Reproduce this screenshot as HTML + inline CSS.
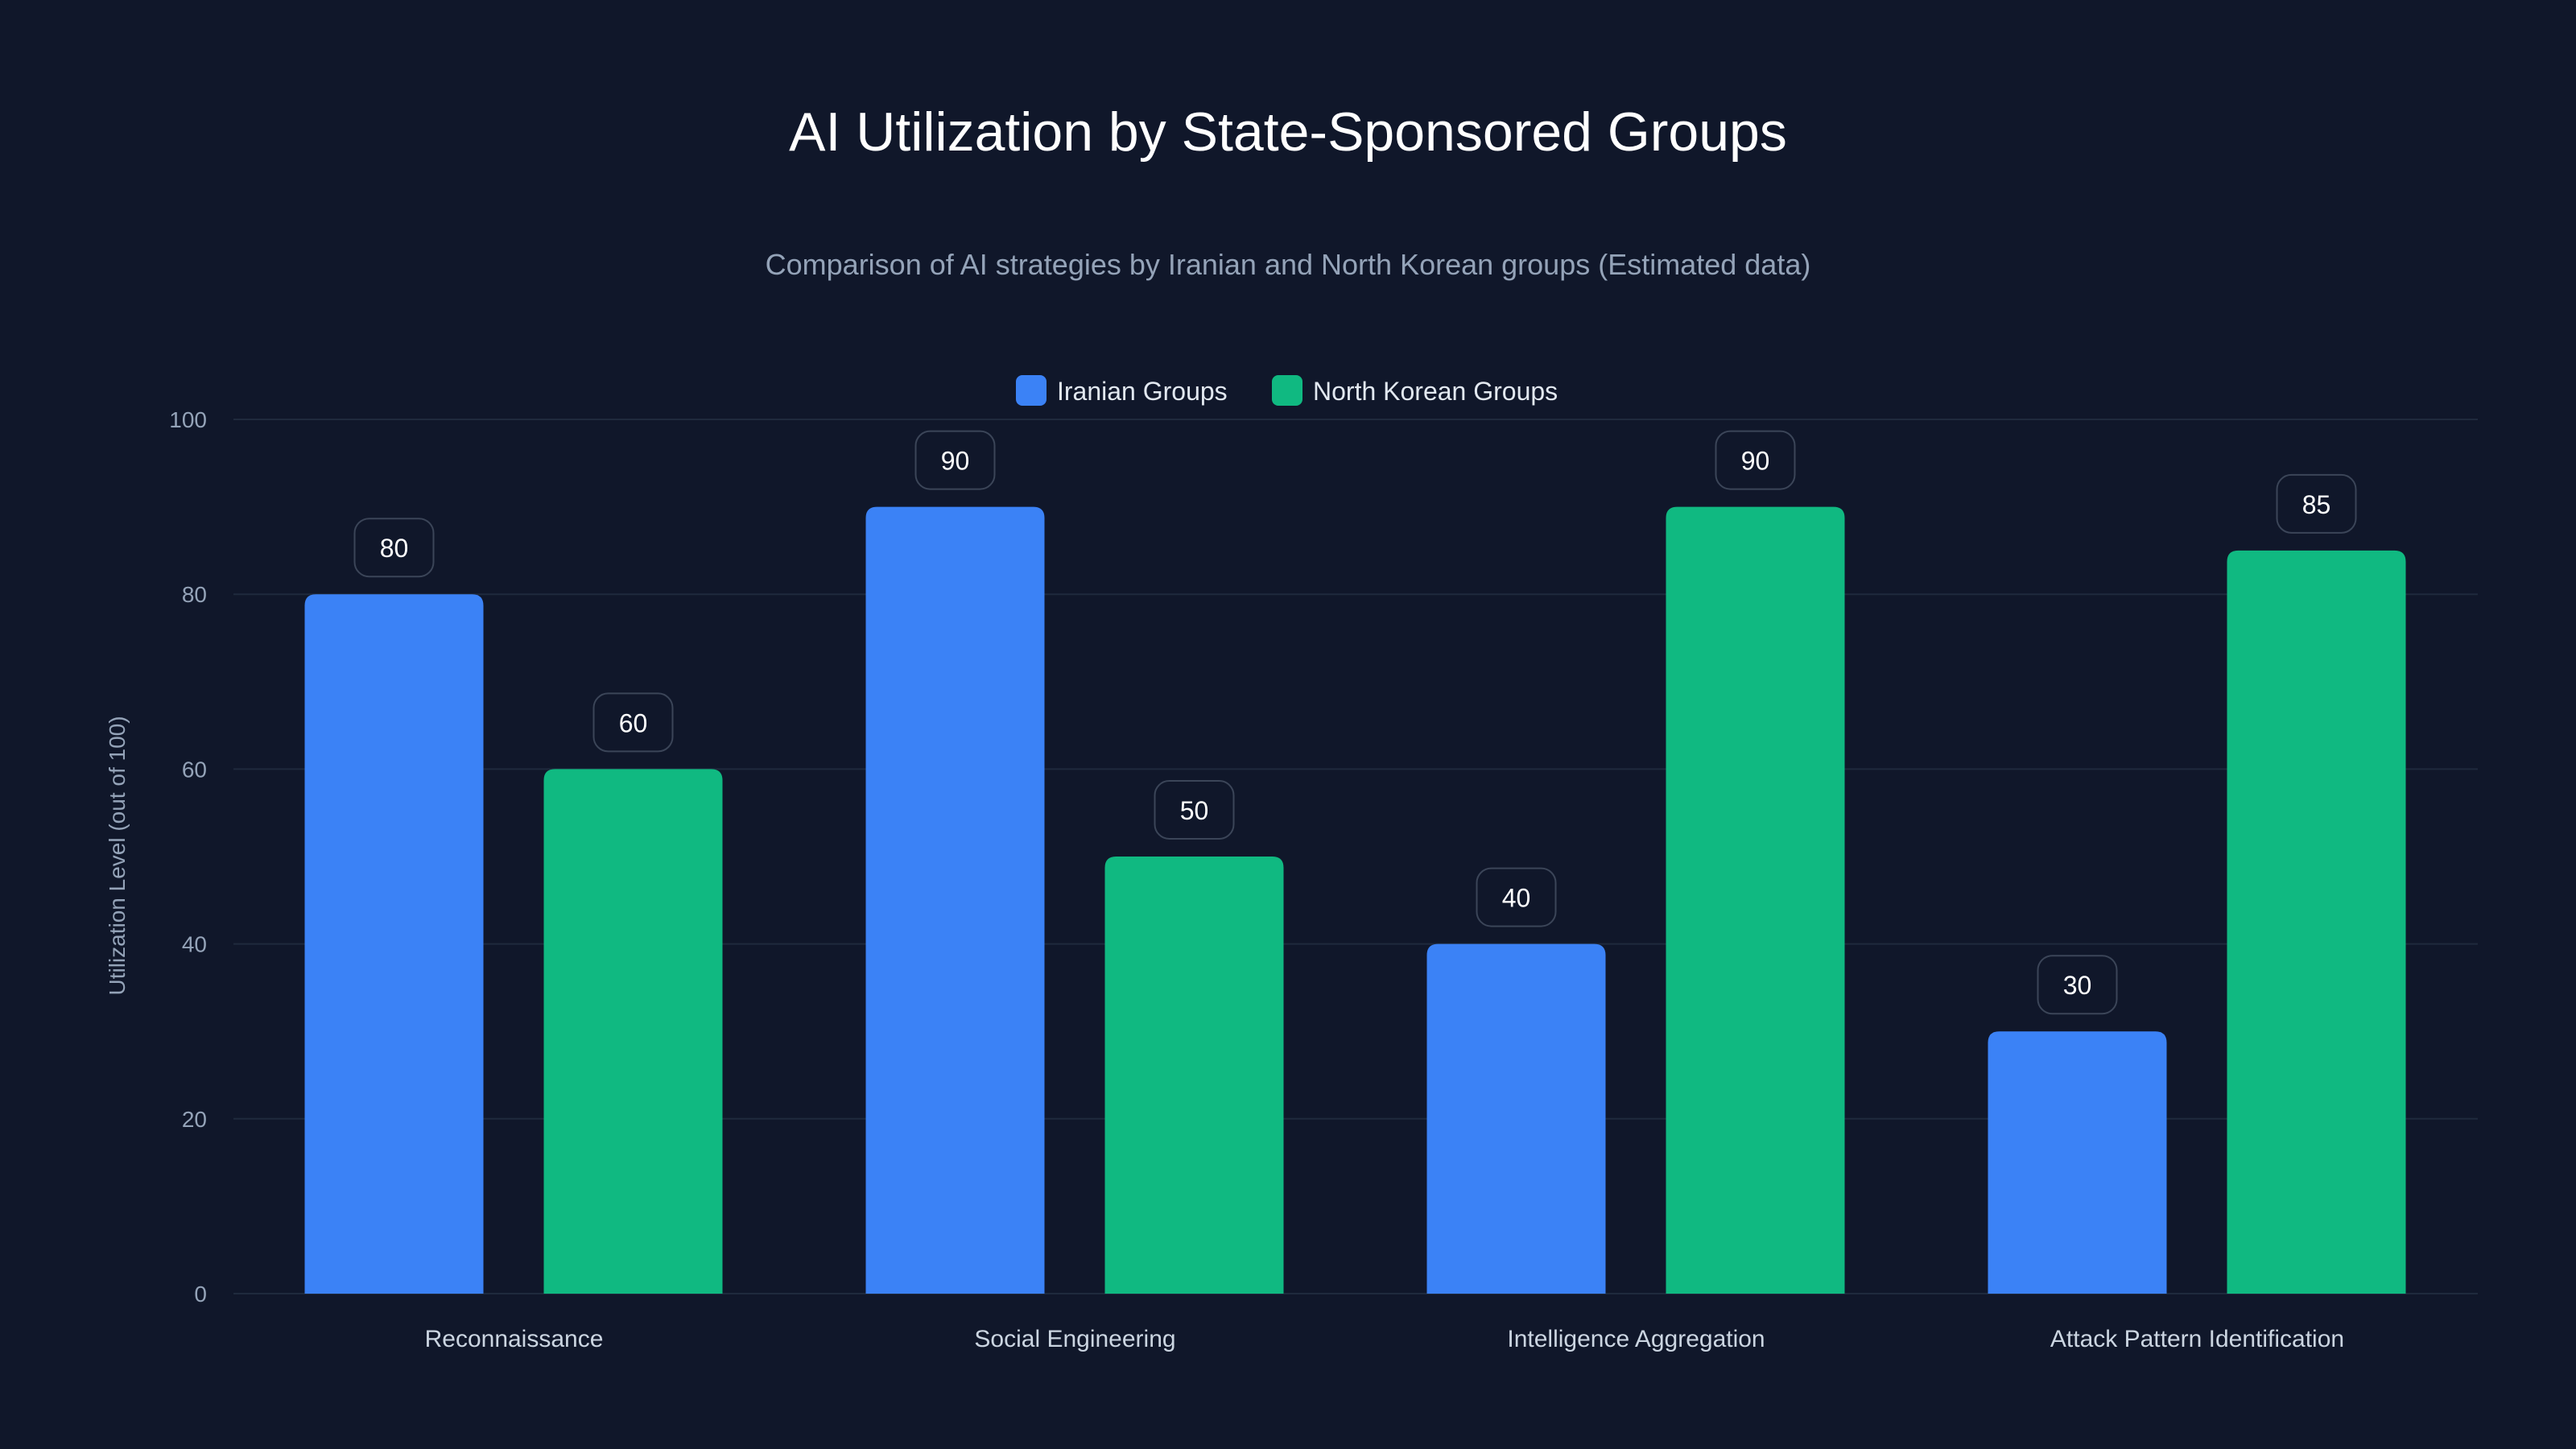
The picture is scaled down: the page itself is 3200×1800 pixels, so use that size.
<!DOCTYPE html>
<html><head><meta charset="utf-8"><style>
html,body{margin:0;padding:0;background:#10172a;}
svg{display:block;font-family:"Liberation Sans",sans-serif;}
</style></head><body>
<svg id="chart" width="3200" height="1800" viewBox="0 0 3200 1800">
<rect width="3200" height="1800" fill="#10172a"/>
<text x="1600" y="187" text-anchor="middle" fill="#ffffff" font-size="68">AI Utilization by State-Sponsored Groups</text>
<text x="1600" y="341" text-anchor="middle" fill="#94a3b8" font-size="36">Comparison of AI strategies by Iranian and North Korean groups (Estimated data)</text>
<g>
<g><rect x="1262" y="466" width="38" height="38" rx="8" fill="#3b82f6"/><text x="1313" y="497" fill="#e2e8f0" font-size="32">Iranian Groups</text></g>
<g><rect x="1580" y="466" width="38" height="38" rx="8" fill="#10b981"/><text x="1631" y="497" fill="#e2e8f0" font-size="32">North Korean Groups</text></g>
</g>
<text transform="translate(155,1063) rotate(-90)" text-anchor="middle" fill="#94a3b8" font-size="28">Utilization Level (out of 100)</text>
<g id="grid"></g><g id="bars"></g>
</svg>
<script>
const categories = ["Reconnaissance","Social Engineering","Intelligence Aggregation","Attack Pattern Identification"];
const iranian = [80, 90, 40, 30];
const northKorean = [60, 50, 90, 85];
const yTicks = [0, 20, 40, 60, 80, 100];

const NS = "http://www.w3.org/2000/svg";
const x0 = 290, x1 = 3078, yBase = 1607, yTop = 521;
const yScale = v => yBase - (v / 100) * (yBase - yTop);
const groupW = (x1 - x0) / categories.length;
const xCenter = i => x0 + groupW * (i + 0.5);
const barW = 222;
function mk(tag, attrs, parent){const e=document.createElementNS(NS,tag);for(const k in attrs)e.setAttribute(k,attrs[k]);parent.appendChild(e);return e;}
const grid = document.getElementById('grid'), bars = document.getElementById('bars');
yTicks.forEach(t=>{
  const y = yScale(t);
  const l = mk('line',{x1:x0,x2:x1,y1:y,y2:y,stroke:'#1f2a3d','stroke-width':2},grid);
  
  
  const tx = mk('text',{x:257,y:y+10,'text-anchor':'end',fill:'#94a3b8','font-size':28},grid);
  tx.textContent = t;
  
  
});
function bar(cx, v, color, name){
  const top = yScale(v), r = 14, x = cx - barW/2;
  const p = mk('path',{d:`M${x},${yBase} V${top+r} Q${x},${top} ${x+r},${top} H${x+barW-r} Q${x+barW},${top} ${x+barW},${top+r} V${yBase} Z`,fill:color},bars);
  
  
  const bx = cx-49, by = top-94;
  const b = mk('rect',{x:bx,y:by,width:98,height:72,rx:18,fill:'#10172a',stroke:'#3b4558','stroke-width':2},bars);
  
  
  const t = mk('text',{x:cx,y:by+48,'text-anchor':'middle',fill:'#ffffff','font-size':32},bars);
  t.textContent = v;
  
  
}
categories.forEach((c,i)=>{
  const cx = xCenter(i);
  const slug = c.toLowerCase().replace(/ /g,'-');
  bar(cx-149, iranian[i], '#3b82f6', 'iranian-'+slug);
  bar(cx+148, northKorean[i], '#10b981', 'north-korean-'+slug);
  const t = mk('text',{x:cx,y:1673,'text-anchor':'middle',fill:'#cbd5e1','font-size':30},bars);
  t.textContent = c;
  
  
});
</script>
</body></html>
